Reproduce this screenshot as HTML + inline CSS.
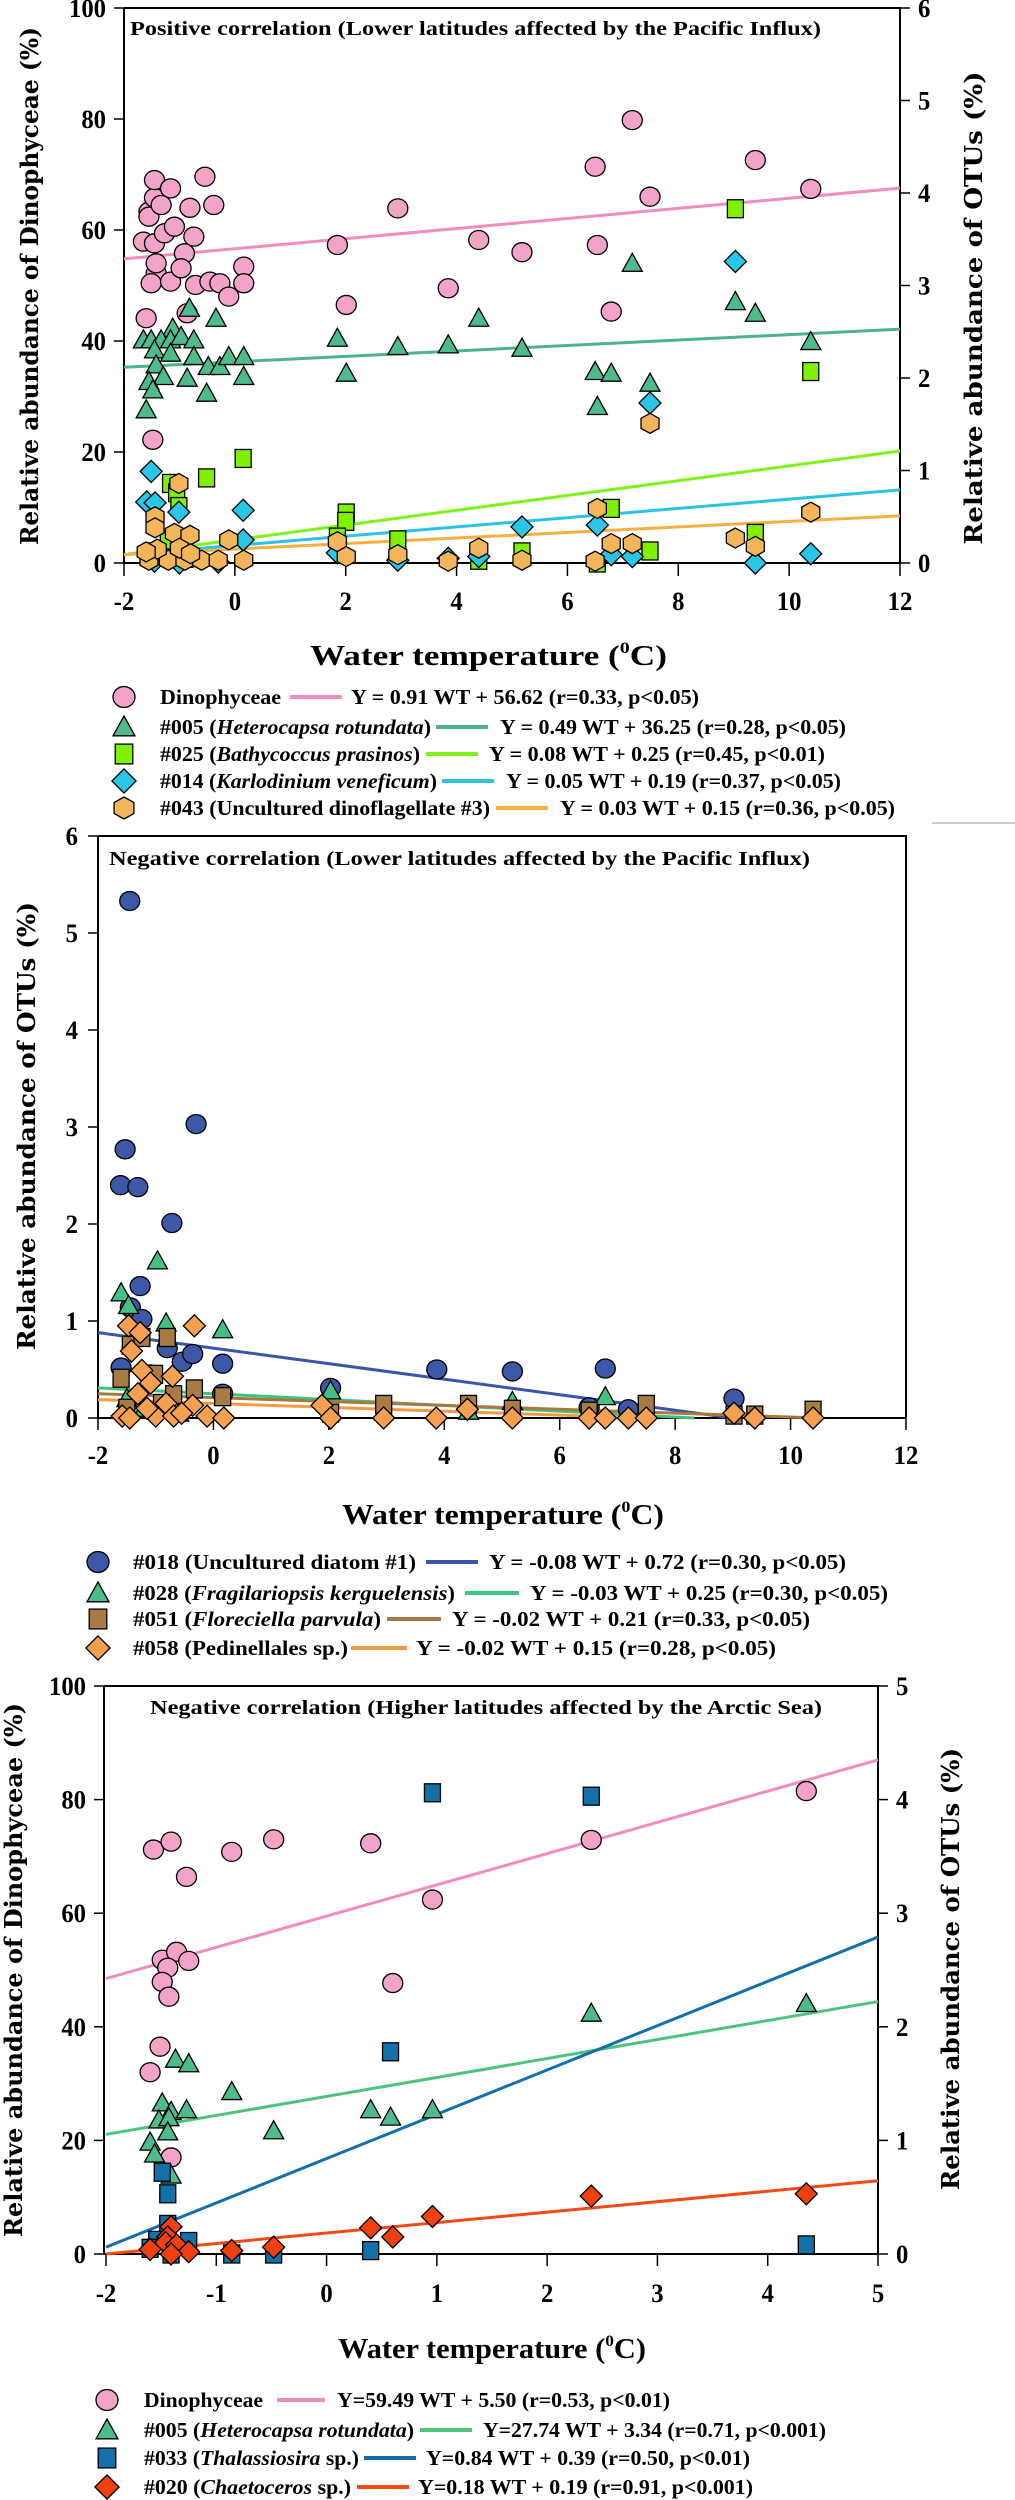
<!DOCTYPE html>
<html><head><meta charset="utf-8"><style>
html,body{margin:0;padding:0;background:#fff;}
svg{display:block;}
text{font-family:"Liberation Serif",serif;font-weight:bold;fill:#000;}
.yt{font-family:"DejaVu Serif","Liberation Serif",serif;font-weight:bold;}
</style></head><body>
<svg id="fig" width="1015" height="2500" viewBox="0 0 1015 2500" xmlns="http://www.w3.org/2000/svg">
<text x="130" y="35" font-size="20" textLength="691" lengthAdjust="spacingAndGlyphs">Positive correlation (Lower latitudes affected by the Pacific Influx)</text>
<text class="yt" transform="translate(38,286) rotate(-90)" text-anchor="middle" font-size="24" textLength="518" lengthAdjust="spacingAndGlyphs">Relative abundance of Dinophyceae (%)</text>
<text class="yt" transform="translate(982,308) rotate(-90)" text-anchor="middle" font-size="24" textLength="473" lengthAdjust="spacingAndGlyphs">Relative abundance of OTUs (%)</text>
<text x="310" y="665" font-size="28" textLength="357" lengthAdjust="spacingAndGlyphs">Water temperature (<tspan font-size="16" dy="-12">0</tspan><tspan dy="12">C)</tspan></text>
<line x1="932" y1="823" x2="1015" y2="823" stroke="#bbb" stroke-width="1.5"/>
<g>
<text x="160" y="704" font-size="21" textLength="121" lengthAdjust="spacingAndGlyphs">Dinophyceae</text>
<text x="351" y="704" font-size="21" textLength="348" lengthAdjust="spacingAndGlyphs">Y = 0.91 WT + 56.62 (r=0.33, p&lt;0.05)</text>
<text x="160" y="734" font-size="21" textLength="271" lengthAdjust="spacingAndGlyphs">#005 (<tspan font-style="italic">Heterocapsa rotundata</tspan>)</text>
<text x="500" y="734" font-size="21" textLength="346" lengthAdjust="spacingAndGlyphs">Y = 0.49 WT + 36.25 (r=0.28, p&lt;0.05)</text>
<text x="160" y="761" font-size="21" textLength="260" lengthAdjust="spacingAndGlyphs">#025 (<tspan font-style="italic">Bathycoccus prasinos</tspan>)</text>
<text x="489" y="761" font-size="21" textLength="336" lengthAdjust="spacingAndGlyphs">Y = 0.08 WT + 0.25 (r=0.45, p&lt;0.01)</text>
<text x="160" y="788" font-size="21" textLength="277" lengthAdjust="spacingAndGlyphs">#014 (<tspan font-style="italic">Karlodinium veneficum</tspan>)</text>
<text x="506" y="788" font-size="21" textLength="335" lengthAdjust="spacingAndGlyphs">Y = 0.05 WT + 0.19 (r=0.37, p&lt;0.05)</text>
<text x="160" y="815" font-size="21" textLength="330" lengthAdjust="spacingAndGlyphs">#043 (Uncultured dinoflagellate #3)</text>
<text x="560" y="815" font-size="21" textLength="335" lengthAdjust="spacingAndGlyphs">Y = 0.03 WT + 0.15 (r=0.36, p&lt;0.05)</text>
</g>
<text x="109" y="865" font-size="20" textLength="701" lengthAdjust="spacingAndGlyphs">Negative correlation (Lower latitudes affected by the Pacific Influx)</text>
<text class="yt" transform="translate(35,1126) rotate(-90)" text-anchor="middle" font-size="24" textLength="448" lengthAdjust="spacingAndGlyphs">Relative abundance of OTUs (%)</text>
<text x="342" y="1524" font-size="28" textLength="322" lengthAdjust="spacingAndGlyphs">Water temperature (<tspan font-size="16" dy="-12">0</tspan><tspan dy="12">C)</tspan></text>
<g>
<text x="133" y="1569" font-size="21" textLength="283" lengthAdjust="spacingAndGlyphs">#018 (Uncultured diatom #1)</text>
<text x="489" y="1569" font-size="21" textLength="357" lengthAdjust="spacingAndGlyphs">Y = -0.08 WT + 0.72 (r=0.30, p&lt;0.05)</text>
<text x="133" y="1600" font-size="21" textLength="322" lengthAdjust="spacingAndGlyphs">#028 (<tspan font-style="italic">Fragilariopsis kerguelensis</tspan>)</text>
<text x="530" y="1600" font-size="21" textLength="358" lengthAdjust="spacingAndGlyphs">Y = -0.03 WT + 0.25 (r=0.30, p&lt;0.05)</text>
<text x="133" y="1626" font-size="21" textLength="248" lengthAdjust="spacingAndGlyphs">#051 (<tspan font-style="italic">Floreciella parvula</tspan>)</text>
<text x="452" y="1626" font-size="21" textLength="358" lengthAdjust="spacingAndGlyphs">Y = -0.02 WT + 0.21 (r=0.33, p&lt;0.05)</text>
<text x="133" y="1655" font-size="21" textLength="215" lengthAdjust="spacingAndGlyphs">#058 (Pedinellales sp.)</text>
<text x="416" y="1655" font-size="21" textLength="360" lengthAdjust="spacingAndGlyphs">Y = -0.02 WT + 0.15 (r=0.28, p&lt;0.05)</text>
</g>
<text x="150" y="1714" font-size="20" textLength="672" lengthAdjust="spacingAndGlyphs">Negative correlation (Higher latitudes affected by the Arctic Sea)</text>
<text class="yt" transform="translate(22,1970) rotate(-90)" text-anchor="middle" font-size="24" textLength="534" lengthAdjust="spacingAndGlyphs">Relative abundance of Dinophyceae (%)</text>
<text class="yt" transform="translate(959,1969) rotate(-90)" text-anchor="middle" font-size="24" textLength="442" lengthAdjust="spacingAndGlyphs">Relative abundance of OTUs (%)</text>
<text x="338" y="2358" font-size="28" textLength="308" lengthAdjust="spacingAndGlyphs">Water temperature (<tspan font-size="16" dy="-12">0</tspan><tspan dy="12">C)</tspan></text>
<g>
<text x="144" y="2407" font-size="21" textLength="119" lengthAdjust="spacingAndGlyphs">Dinophyceae</text>
<text x="337" y="2407" font-size="21" textLength="333" lengthAdjust="spacingAndGlyphs">Y=59.49 WT + 5.50 (r=0.53, p&lt;0.01)</text>
<text x="144" y="2437" font-size="21" textLength="270" lengthAdjust="spacingAndGlyphs">#005 (<tspan font-style="italic">Heterocapsa rotundata</tspan>)</text>
<text x="483" y="2437" font-size="21" textLength="343" lengthAdjust="spacingAndGlyphs">Y=27.74 WT + 3.34 (r=0.71, p&lt;0.001)</text>
<text x="144" y="2465" font-size="21" textLength="215" lengthAdjust="spacingAndGlyphs">#033 (<tspan font-style="italic">Thalassiosira</tspan> sp.)</text>
<text x="426" y="2465" font-size="21" textLength="324" lengthAdjust="spacingAndGlyphs">Y=0.84 WT + 0.39 (r=0.50, p&lt;0.01)</text>
<text x="144" y="2494" font-size="21" textLength="207" lengthAdjust="spacingAndGlyphs">#020 (<tspan font-style="italic">Chaetoceros</tspan> sp.)</text>
<text x="418" y="2494" font-size="21" textLength="335" lengthAdjust="spacingAndGlyphs">Y=0.18 WT + 0.19 (r=0.91, p&lt;0.001)</text>
</g>
</svg>
<script>
// ===== Panel 1 data =====
const p1XTicks = [-2, 0, 2, 4, 6, 8, 10, 12];
const p1LeftTicks = [0, 20, 40, 60, 80, 100];
const p1RightTicks = [0, 1, 2, 3, 4, 5, 6];
const p1DinoX = [-1.60,-1.48,-1.55,-1.45,-1.55,-1.45,-1.16,-1.65,-1.45,-1.27,-1.09,-1.33,-0.81,-0.54,-0.38,-0.74,-0.91,-1.42,-1.51,-1.16,-0.97,-0.71,-0.45,-0.27,-0.11,0.16,0.16,-1.42,-0.86,1.85,2.01,2.94,3.85,4.40,5.18,6.50,6.54,6.79,7.17,7.49,9.39,10.39];
const p1DinoY = [44.1,22.2,63.3,65.8,62.4,69.0,67.5,57.9,57.6,59.4,60.6,64.5,64.0,69.6,64.5,58.8,55.8,52.2,50.4,50.7,53.1,50.1,50.7,50.4,48.0,53.4,50.4,54.0,45.0,57.3,46.5,63.9,49.5,58.2,56.0,71.4,57.3,45.3,79.8,66.0,72.6,67.4];
const p1H005X = [-0.82,-0.34,-1.12,-1.65,-1.51,-1.33,-1.16,-0.97,-0.74,-1.45,-1.42,-1.29,-1.55,-1.48,-1.60,-1.16,-0.74,-0.48,-0.27,-0.11,0.16,-0.86,-0.51,0.16,1.85,2.01,2.94,3.85,4.40,5.18,6.50,6.79,6.54,7.17,7.49,9.03,9.39,10.39];
const p1H005Y = [45.9,44.1,42.3,40.2,40.2,40.2,40.2,40.8,40.2,38.4,35.7,33.6,32.7,31.2,27.6,37.8,37.2,35.4,35.4,37.2,37.2,33.3,30.6,33.6,40.5,34.2,39.0,39.3,44.1,38.7,34.5,34.2,28.2,54.0,32.4,47.1,45.0,39.9];
const p1B025X = [0.15,-0.51,-1.16,-1.05,-1.01,2.01,6.79,9.03,10.39,2.0,2.94,4.40,5.18,7.49,9.39,6.54,1.85,-1.5,-1.2,-0.9];
const p1B025Y = [1.13,0.92,0.86,0.76,0.61,0.54,0.59,3.83,2.07,0.45,0.25,0.03,0.12,0.13,0.32,0.0,0.28,0.12,0.25,0.05];
const p1K014X = [-1.51,-1.59,-1.44,-1.01,0.15,9.03,7.49,6.54,5.18,0.15,1.85,4.40,3.85,6.79,7.17,9.39,10.39,2.94,-1.45,-1.0,-0.3];
const p1K014Y = [0.99,0.66,0.65,0.55,0.57,3.26,1.73,0.41,0.39,0.25,0.11,0.07,0.05,0.09,0.07,0.0,0.10,0.03,0.02,0.0,0.01];
const p1U043X = [-1.01,7.49,6.54,10.39,-1.44,-1.44,-1.09,-0.81,-0.11,1.85,2.01,2.94,4.40,3.85,5.18,6.50,6.79,7.17,9.03,9.39,-1.55,-1.2,-0.9,-0.6,-0.3,0.16,-1.4,-1.6,-1.0,-0.8];
const p1U043Y = [0.86,1.51,0.59,0.55,0.50,0.38,0.32,0.30,0.25,0.23,0.07,0.09,0.16,0.02,0.03,0.02,0.21,0.21,0.27,0.18,0.03,0.03,0.03,0.03,0.03,0.03,0.15,0.12,0.16,0.10];
const p1Slopes = [0.91, 0.49, 0.08, 0.05, 0.03];
const p1Intercepts = [56.62, 36.25, 0.25, 0.19, 0.15];
// ===== Panel 2 data =====
const p2XTicks = [-2, 0, 2, 4, 6, 8, 10, 12];
const p2YTicks = [0, 1, 2, 3, 4, 5, 6];
const p2D018X = [-1.45,-1.53,-1.61,-1.31,-0.30,-0.72,-1.27,-1.44,-1.24,-0.80,-0.54,-0.36,0.16,-1.60,2.03,3.87,5.18,6.79,6.51,7.19,9.02,0.16,-1.1];
const p2D018Y = [5.33,2.77,2.40,2.38,3.03,2.01,1.36,1.14,1.02,0.72,0.58,0.66,0.56,0.52,0.31,0.50,0.48,0.51,0.11,0.09,0.20,0.25,0.45];
const p2F028X = [-1.60,-1.47,-0.97,-0.82,0.16,2.03,4.42,5.18,6.79,-1.5,-1.2,-0.6];
const p2F028Y = [1.29,1.16,1.62,0.98,0.91,0.28,0.07,0.17,0.22,0.2,0.1,0.05];
const p2F051X = [-1.60,-1.44,-1.24,-0.80,-1.02,-0.69,-0.33,0.16,2.03,2.95,4.42,5.18,6.51,7.50,9.02,9.38,10.39,-1.5,-0.9];
const p2F051Y = [0.41,0.75,0.83,0.83,0.45,0.24,0.30,0.22,0.05,0.14,0.14,0.09,0.07,0.14,0.03,0.03,0.08,0.1,0.15];
const p2P058X = [-1.47,-1.27,-1.42,-0.33,-1.24,-1.09,-0.71,-1.31,-0.82,-0.36,-0.11,1.88,2.03,2.95,3.86,4.40,5.18,6.51,6.79,7.19,7.50,9.02,9.38,10.39,-1.58,-1.45,-1.0,-0.69,0.18,-1.15,-0.55];
const p2P058Y = [0.95,0.88,0.69,0.95,0.49,0.36,0.43,0.25,0.15,0.13,0.02,0.13,0.0,0.0,0.0,0.09,0.0,0.0,0.0,0.0,0.0,0.05,0.0,0.0,0.02,0.0,0.02,0.02,0.0,0.1,0.05];
const p2Slopes = [-0.08, -0.03, -0.02, -0.02];
const p2Intercepts = [0.72, 0.25, 0.21, 0.15];
// ===== Panel 3 data =====
const p3XTicks = [-2, -1, 0, 1, 2, 3, 4, 5];
const p3LeftTicks = [0, 20, 40, 60, 80, 100];
const p3RightTicks = [0, 1, 2, 3, 4, 5];
const p3DinoX = [-1.57,-1.41,-1.27,-0.86,-0.48,0.40,0.96,2.40,4.35,0.60,-1.49,-1.36,-1.25,-1.44,-1.49,-1.43,-1.51,-1.60,-1.41];
const p3DinoY = [71.2,72.6,66.4,70.8,73.0,72.3,62.4,72.9,81.5,47.7,51.8,53.2,51.6,50.4,47.9,45.3,36.5,32.0,17.0];
const p3H005X = [2.40,4.35,-1.37,-1.25,-0.86,-1.49,-1.41,-1.27,0.40,0.96,0.58,-0.48,-1.52,-1.43,-1.44,-1.60,-1.56,-1.41];
const p3H005Y = [42.4,44.1,34.3,33.5,28.6,26.6,25.1,25.4,25.4,25.4,24.1,21.7,23.6,24.0,21.5,19.7,17.6,13.9];
const p3T033X = [0.96,2.40,0.58,-1.49,-1.44,-1.44,-1.25,-1.54,0.40,4.35,-0.86,-0.48,-1.41,-1.6];
const p3T033Y = [4.06,4.03,1.78,0.72,0.53,0.26,0.11,0.12,0.03,0.08,0.0,0.0,0.0,0.05];
const p3C020X = [2.40,4.35,0.96,0.40,0.60,-1.41,-1.44,-1.46,-1.36,-1.60,-1.25,-0.86,-0.48,-1.41];
const p3C020Y = [0.51,0.53,0.33,0.23,0.15,0.24,0.15,0.10,0.08,0.04,0.02,0.03,0.06,0.0];
const p3Slopes = [5.50, 3.34, 0.39, 1.84];
const p3Intercepts = [59.49, 27.74, 0.84, 3.69];

const NS = 'http://www.w3.org/2000/svg';
const svg = document.getElementById('fig');
function el(tag, attrs, parent) {
  const e = document.createElementNS(NS, tag);
  for (const k in attrs) e.setAttribute(k, attrs[k]);
  (parent || svg).appendChild(e);
  return e;
}
function lin(d0, d1, r0, r1) { return v => r0 + (v - d0) * (r1 - r0) / (d1 - d0); }

function marker(shape, cx, cy, fill, g, s) {
  s = s || 1;
  let m;
  if (shape === 'circle') m = el('ellipse', {cx: cx, cy: cy, rx: 10*s, ry: 9.5*s}, g);
  else if (shape === 'tri') m = el('polygon', {points: `${cx},${cy-10*s} ${cx+10*s},${cy+8*s} ${cx-10*s},${cy+8*s}`}, g);
  else if (shape === 'square') m = el('rect', {x: cx-8*s, y: cy-9*s, width: 16*s, height: 18*s}, g);
  else if (shape === 'diamond') m = el('polygon', {points: `${cx},${cy-11*s} ${cx+11*s},${cy} ${cx},${cy+11*s} ${cx-11*s},${cy}`}, g);
  else m = el('polygon', {points: `${cx},${cy-10*s} ${cx+9*s},${cy-5*s} ${cx+9*s},${cy+5*s} ${cx},${cy+10*s} ${cx-9*s},${cy+5*s} ${cx-9*s},${cy-5*s}`}, g);
  m.setAttribute('fill', fill);
  m.setAttribute('stroke', '#000');
  m.setAttribute('stroke-width', '1.3');
  return m;
}
function tickText(x, y, str, anchor, size, g) {
  const t = el('text', {transform: `translate(${x},${y}) scale(0.95,1)`, 'text-anchor': anchor, 'font-size': 26}, g);
  t.textContent = str;
  return t;
}

// ===================== PANEL 1 =====================
(function(){
  const X = lin(-2, 12, 124, 900), YL = lin(0, 100, 563, 8), YR = lin(0, 6, 563, 8);
  const g = el('g', {});
  
  
  const ax = el('path', {d: 'M124,8 H900 V563 M124,8 V563 H900', fill: 'none', stroke: '#000', 'stroke-width': 2}, g);
  
  
  p1XTicks.forEach(v => {
    el('line', {x1: X(v), x2: X(v), y1: 563, y2: 576, stroke: '#000', 'stroke-width': 1.5}, g);
    const t = tickText(X(v), 610, String(v), 'middle', 24, g);
    
    
  });
  p1LeftTicks.forEach(v => {
    el('line', {x1: 114, x2: 124, y1: YL(v), y2: YL(v), stroke: '#000', 'stroke-width': 1.5}, g);
    const t = tickText(106, YL(v) + 9, String(v), 'end', 24, g);
    
    
  });
  p1RightTicks.forEach(v => {
    el('line', {x1: 900, x2: 910, y1: YR(v), y2: YR(v), stroke: '#000', 'stroke-width': 1.5}, g);
    const t = tickText(918, YR(v) + 9, String(v), 'start', 24, g);
    
    
  });
  const lineColors = ['#f08cbf', '#4cb38c', '#7ff21a', '#2cc2e6', '#f5b040'];
  const lineAxes = [YL, YL, YR, YR, YR];
  const lineNames = ['dinophyceae-fit-line', 'otu005-fit-line', 'otu025-fit-line', 'otu014-fit-line', 'otu043-fit-line'];
  p1Slopes.forEach((s, i) => {
    const Y = lineAxes[i];
    const ln = el('line', {x1: X(-2), y1: Y(s*-2 + p1Intercepts[i]), x2: X(12), y2: Y(s*12 + p1Intercepts[i]), stroke: lineColors[i], 'stroke-width': 3}, g);
    
    
  });
  const series = [
    [p1DinoX, p1DinoY, YL, 'circle', '#f4a3c8', 'dinophyceae-point'],
    [p1H005X, p1H005Y, YL, 'tri', '#4dbb8a', 'otu005-point'],
    [p1B025X, p1B025Y, YR, 'square', '#80f000', 'otu025-point'],
    [p1K014X, p1K014Y, YR, 'diamond', '#29c6e8', 'otu014-point'],
    [p1U043X, p1U043Y, YR, 'hex', '#f2b55a', 'otu043-point']
  ];
  series.forEach(sr => {
    sr[0].forEach((x, i) => {
      const m = marker(sr[3], X(x), sr[2](sr[1][i]), sr[4], g);
      
      
    });
  });
  const lg = el('g', {});
  
  
  const rows = [697, 727, 754, 781, 808];
  const shapes = ['circle', 'tri', 'square', 'diamond', 'hex'];
  const fills = ['#f4a3c8', '#4dbb8a', '#80f000', '#29c6e8', '#f2b55a'];
  const lx = [[290,342],[436,488],[426,478],[442,494],[496,548]];
  rows.forEach((y, i) => {
    const m = marker(shapes[i], 124, y, fills[i], lg, 1.1);
    
    
    const l = el('line', {x1: lx[i][0], x2: lx[i][1], y1: y, y2: y, stroke: lineColors[i], 'stroke-width': 4}, lg);
    
    
  });
})();

// ===================== PANEL 2 =====================
(function(){
  const X = lin(-2, 12, 98, 906), Y = lin(0, 6, 1418, 836);
  const g = el('g', {});
  
  
  const ax = el('path', {d: 'M98,836 H906 V1418 M98,836 V1418 H906', fill: 'none', stroke: '#000', 'stroke-width': 2}, g);
  
  
  p2XTicks.forEach(v => {
    el('line', {x1: X(v), x2: X(v), y1: 1418, y2: 1430, stroke: '#000', 'stroke-width': 1.5}, g);
    const t = tickText(X(v), 1464, String(v), 'middle', 24, g);
    
    
  });
  p2YTicks.forEach(v => {
    el('line', {x1: 88, x2: 98, y1: Y(v), y2: Y(v), stroke: '#000', 'stroke-width': 1.5}, g);
    const t = tickText(78, Y(v) + 9, String(v), 'end', 24, g);
    
    
  });
  const lineColors = ['#3a56a8', '#3cc47a', '#a87840', '#f59a40'];
  const lineNames = ['otu018-fit-line', 'otu028-fit-line', 'otu051-fit-line', 'otu058-fit-line'];
  p2Slopes.forEach((s, i) => {
    const b = p2Intercepts[i];
    const xEnd = Math.min(12, -b / s);
    const ln = el('line', {x1: X(-2), y1: Y(s*-2 + b), x2: X(xEnd), y2: Y(s*xEnd + b), stroke: lineColors[i], 'stroke-width': 3}, g);
    
    
  });
  const series = [
    [p2D018X, p2D018Y, 'circle', '#3d58a8', 'otu018-point'],
    [p2F028X, p2F028Y, 'tri', '#44c084', 'otu028-point'],
    [p2F051X, p2F051Y, 'square', '#a87a44', 'otu051-point'],
    [p2P058X, p2P058Y, 'diamond', '#f5a050', 'otu058-point']
  ];
  series.forEach(sr => {
    sr[0].forEach((x, i) => {
      const m = marker(sr[2], X(x), Y(sr[1][i]), sr[3], g);
      
      
    });
  });
  const lg = el('g', {});
  
  
  const rows = [1562, 1593, 1619, 1648];
  const shapes = ['circle', 'tri', 'square', 'diamond'];
  const fills = ['#3d58a8', '#44c084', '#a87a44', '#f5a050'];
  const lx = [[426,478],[465,519],[387,441],[351,407]];
  rows.forEach((y, i) => {
    const m = marker(shapes[i], 98, y, fills[i], lg, 1.1);
    
    
    const l = el('line', {x1: lx[i][0], x2: lx[i][1], y1: y, y2: y, stroke: lineColors[i], 'stroke-width': 4}, lg);
    
    
  });
})();

// ===================== PANEL 3 =====================
(function(){
  const X = lin(-2, 5, 106, 878), YL = lin(0, 100, 2254, 1686), YR = lin(0, 5, 2254, 1686);
  const g = el('g', {});
  
  
  const ax = el('path', {d: 'M104,1686 H878 V2254 M104,1686 V2254 H878', fill: 'none', stroke: '#000', 'stroke-width': 2}, g);
  
  
  p3XTicks.forEach(v => {
    el('line', {x1: X(v), x2: X(v), y1: 2254, y2: 2266, stroke: '#000', 'stroke-width': 1.5}, g);
    const t = tickText(X(v), 2302, String(v), 'middle', 24, g);
    
    
  });
  p3LeftTicks.forEach(v => {
    el('line', {x1: 94, x2: 104, y1: YL(v), y2: YL(v), stroke: '#000', 'stroke-width': 1.5}, g);
    const t = tickText(86, YL(v) + 9, String(v), 'end', 24, g);
    
    
  });
  p3RightTicks.forEach(v => {
    el('line', {x1: 878, x2: 888, y1: YR(v), y2: YR(v), stroke: '#000', 'stroke-width': 1.5}, g);
    const t = tickText(896, YR(v) + 9, String(v), 'start', 24, g);
    
    
  });
  const lineColors = ['#f08cbf', '#4cc47e', '#1370a8', '#f24a14'];
  const lineAxes = [YL, YL, YR, YL];
  const lineNames = ['dinophyceae-fit-line', 'otu005-fit-line', 'otu033-fit-line', 'otu020-fit-line'];
  p3Slopes.forEach((s, i) => {
    const Y = lineAxes[i];
    const ln = el('line', {x1: X(-2), y1: Y(s*-2 + p3Intercepts[i]), x2: X(5), y2: Y(s*5 + p3Intercepts[i]), stroke: lineColors[i], 'stroke-width': 3}, g);
    
    
  });
  const series = [
    [p3DinoX, p3DinoY, YL, 'circle', '#f4a3c8', 'dinophyceae-point'],
    [p3H005X, p3H005Y, YL, 'tri', '#4dbb8a', 'otu005-point'],
    [p3T033X, p3T033Y, YR, 'square', '#1470a8', 'otu033-point'],
    [p3C020X, p3C020Y, YR, 'diamond', '#f04010', 'otu020-point']
  ];
  series.forEach(sr => {
    sr[0].forEach((x, i) => {
      const m = marker(sr[3], X(x), sr[2](sr[1][i]), sr[4], g);
      
      
    });
  });
  const lg = el('g', {});
  
  
  const rows = [2400, 2430, 2458, 2487];
  const shapes = ['circle', 'tri', 'square', 'diamond'];
  const fills = ['#f4a3c8', '#4dbb8a', '#1470a8', '#f04010'];
  const lx = [[277,325],[420,472],[364,416],[357,409]];
  rows.forEach((y, i) => {
    const m = marker(shapes[i], 107, y, fills[i], lg, 1.1);
    
    
    const l = el('line', {x1: lx[i][0], x2: lx[i][1], y1: y, y2: y, stroke: lineColors[i], 'stroke-width': 4}, lg);
    
    
  });
})();
</script>
</body></html>
